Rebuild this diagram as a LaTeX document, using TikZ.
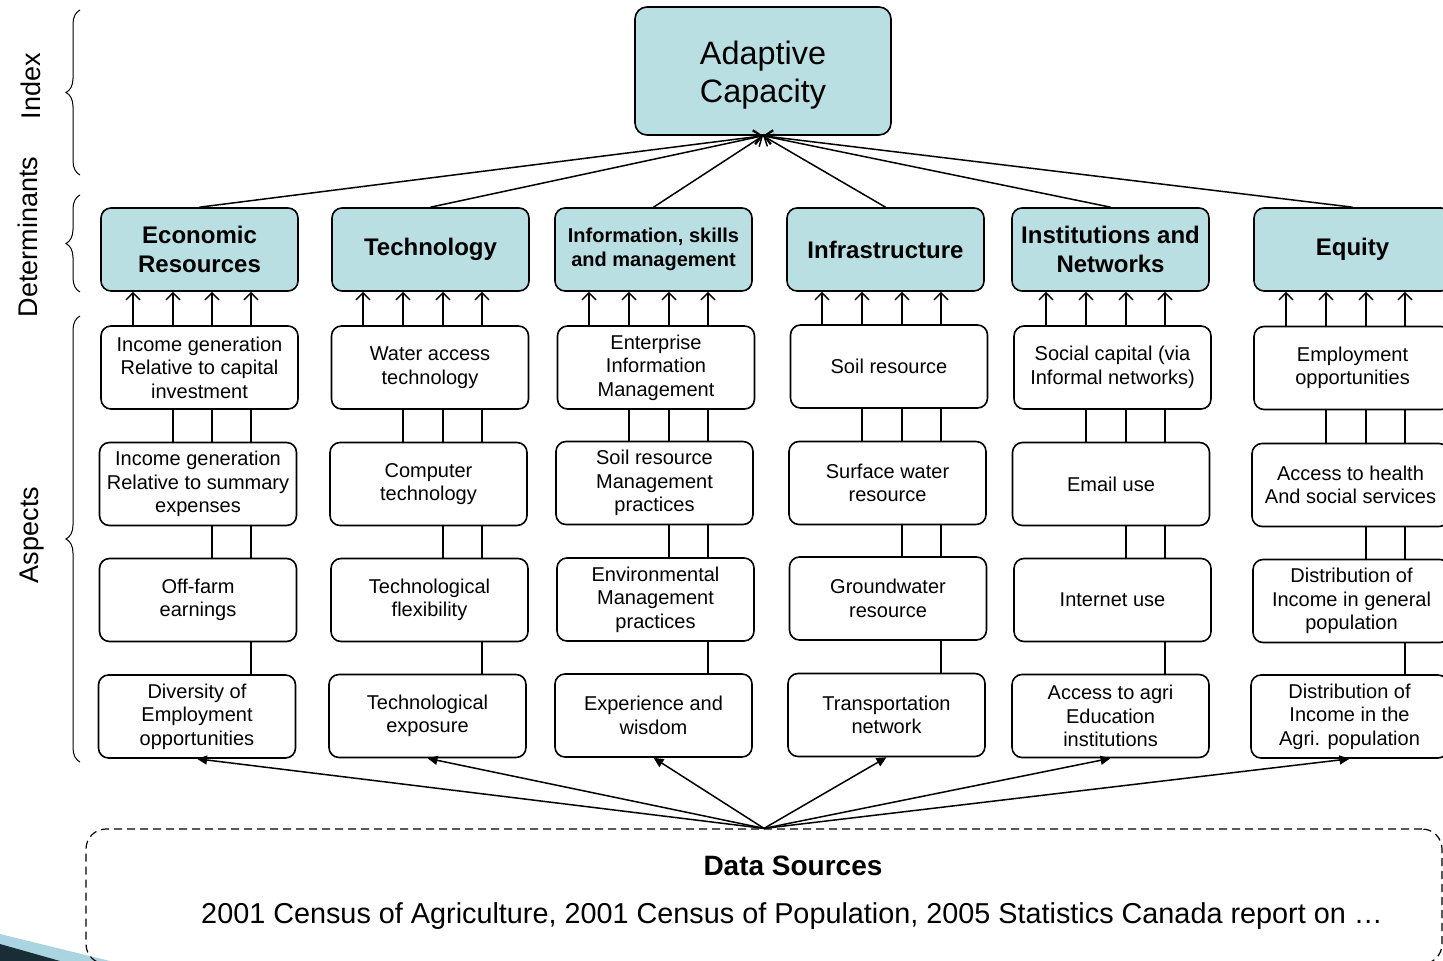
\documentclass[tikz,border=0pt]{standalone}
\usepackage{fontspec}
\setmainfont{Liberation Sans}
\usetikzlibrary{arrows.meta,decorations.pathreplacing,calc}
\definecolor{detfill}{RGB}{185,223,226}
\definecolor{swlight}{RGB}{170,212,224}
\definecolor{swdark}{RGB}{25,45,55}
\begin{document}
\begin{tikzpicture}[x=0.5pt,y=-0.5pt,
  box/.style={draw,line width=0.8pt,rounded corners=5pt,align=center,inner sep=1pt,minimum height=41.5pt,minimum width=98.5pt},
  det/.style={box,fill=detfill,font=\fontsize{12}{14.5}\selectfont\bfseries},
  asp/.style={box,fill=white,font=\fontsize{10}{11.75}\selectfont},
  upar/.style={-{Straight Barb[length=3.5pt,width=7pt]},line width=0.75pt},
  link/.style={line width=0.75pt},
  toac/.style={-{Straight Barb[length=4pt,width=7pt]},line width=0.75pt},
  dsar/.style={-{Triangle[length=5pt,width=4.5pt]},line width=0.75pt},
  brc/.style={decorate,decoration={brace,amplitude=7pt},line width=0.5pt},
  side/.style={rotate=90,font=\fontsize{13.5}{16}\selectfont}]
\clip (0,0) rectangle (1443,961);
\fill[white] (0,0) rectangle (1443,961);

% swoosh
\fill[swlight] (0,934) -- (110,961) -- (0,961) -- cycle;
\fill[swdark] (0,944) -- (60,961) -- (0,961) -- cycle;

% braces and side labels
\draw[brc] (80,175) -- (80,10);
\draw[brc] (80,292) -- (80,195);
\draw[brc] (80,762) -- (80,316);
\node[side] (lidx) at (31,86) {Index};
\node[side] (ldet) at (28,237) {Determinants};
\node[side] (lasp) at (32,535) {Aspects};

% index
\node[box,fill=detfill,minimum width=128pt,minimum height=64pt,rounded corners=6pt,
      font=\fontsize{16.2}{19}\selectfont] (ac) at (763,71) {\rule{0pt}{15.8pt}Adaptive\\Capacity};

% determinants
\node[det] (d1) at (199.5,249.5) {Economic\\Resources};
\node[det] (d2) at (430.5,249.5) {Technology};
\node[det,font=\fontsize{10}{12}\selectfont\bfseries] (d3) at (653.5,249.5) {Information, skills\\and management};
\node[det] (d4) at (885.5,249.5) {Infrastructure};
\node[det] (d5) at (1110.5,249.5) {Institutions and\\Networks};
\node[det] (d6) at (1352.5,249.5) {Equity};

% aspects row 1
\node[asp] (r1c1) at (199.5,367.5) {Income generation\\Relative to capital\\investment};
\node[asp] (r1c2) at (430,367.5) {Water access\\technology};
\node[asp] (r1c3) at (656,367.5) {Enterprise\\Information\\Management};
\node[asp] (r1c4) at (889,366.5) {Soil resource};
\node[asp] (r1c5) at (1112.5,367.5) {Social capital (via\\Informal networks)};
\node[asp] (r1c6) at (1352.5,368) {Employment\\opportunities};
% row 2
\node[asp] (r2c1) at (198,484) {Income generation\\Relative to summary\\expenses};
\node[asp] (r2c2) at (428.5,484) {Computer\\technology};
\node[asp] (r2c3) at (654.5,483) {Soil resource\\Management\\practices};
\node[asp] (r2c4) at (887.5,483) {Surface water\\resource};
\node[asp] (r2c5) at (1111,484) {Email use};
\node[asp] (r2c6) at (1350.5,485) {Access to health\\And social services};
% row 3
\node[asp] (r3c1) at (198,600) {Off-farm\\earnings};
\node[asp] (r3c2) at (429.5,600) {Technological\\flexibility};
\node[asp] (r3c3) at (655.5,599.5) {Environmental\\Management\\practices};
\node[asp] (r3c4) at (888,598.5) {Groundwater\\resource};
\node[asp] (r3c5) at (1112.5,600) {Internet use};
\node[asp] (r3c6) at (1351.5,601) {Distribution of\\Income in general\\population};
% row 4
\node[asp] (r4c1) at (197,716.5) {Diversity of\\Employment\\opportunities};
\node[asp] (r4c2) at (427.5,716) {Technological\\exposure};
\node[asp] (r4c3) at (653.5,715.5) {Experience and\\wisdom};
\node[asp] (r4c4) at (886.5,715) {Transportation\\network};
\node[asp] (r4c5) at (1110.5,716) {Access to agri\\Education\\institutions};
\node[asp] (r4c6) at (1349.5,716.5) {Distribution of\\Income in the\\Agri. population};

% data sources
\node[draw,dashed,dash pattern=on 4pt off 2.5pt,line width=0.6pt,rounded corners=10pt,
      minimum width=678pt,minimum height=67.5pt] (dsbox) at (764,896.5) {};
\node[font=\fontsize{14}{16}\selectfont\bfseries] (dstitle) at (793,866) {Data Sources};
\node[font=\fontsize{14.4}{17}\selectfont] (dstext) at (792,916)
  {2001 Census of Agriculture, 2001 Census of Population, 2005 Statistics Canada report on \dots};

% determinant -> index
\foreach \c in {1,...,6} {
  \draw[toac] (d\c.north) -- (ac.south);
}

% aspects -> determinants and links between aspects
\foreach \c/\xa/\xb/\xc/\xd in {1/133/173/212/251, 2/363/403/443/482, 3/589/629/669/708,
                                4/822/862/902/941, 5/1046/1086/1126/1165, 6/1286/1326/1366/1405} {
  \foreach \xx in {\xa,\xb,\xc,\xd} {
    \draw[upar] (\xx,0 |- r1c\c.north) -- (\xx,0 |- d\c.south);
  }
  \foreach \xx in {\xb,\xc,\xd} {
    \draw[link] (\xx,0 |- r2c\c.north) -- (\xx,0 |- r1c\c.south);
  }
  \foreach \xx in {\xc,\xd} {
    \draw[link] (\xx,0 |- r3c\c.north) -- (\xx,0 |- r2c\c.south);
  }
  \draw[link] (\xd,0 |- r4c\c.north) -- (\xd,0 |- r3c\c.south);
  \draw[dsar] (dsbox.north) -- (r4c\c.south);
}
\end{tikzpicture}
\end{document}
